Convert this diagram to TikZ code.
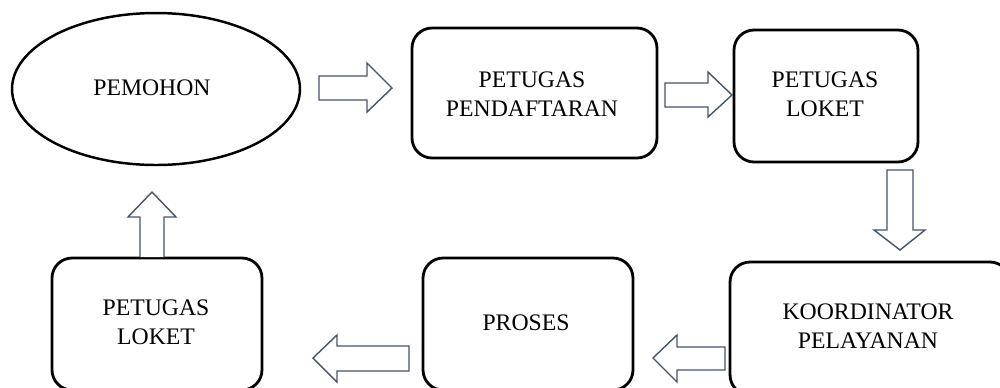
\documentclass[tikz,border=0pt]{standalone}
\usepackage{fontspec}
\setmainfont{Liberation Serif}
\usetikzlibrary{shapes.geometric}
\definecolor{arrowline}{RGB}{68,84,106}
\tikzset{
  procbox/.style={draw=black, line width=1.6pt, rounded corners=0.4cm, inner sep=0pt, align=center, font=\fontsize{13.5}{16.5}\selectfont},
  startnode/.style={draw=black, ellipse, line width=1.4pt, inner sep=0pt, minimum width=5.76cm, minimum height=3.04cm, font=\fontsize{13.5}{16.5}\selectfont},
  blockarrow/.style={draw=arrowline, fill=white, line width=0.8pt, line join=miter},
  lbl/.style={align=center, inner sep=0pt, font=\fontsize{13.5}{16.5}\selectfont}
}
\begin{document}
\begin{tikzpicture}[x=0.02cm,y=-0.02cm]
\useasboundingbox (0,0) rectangle (1000,387);
\clip (0,0) rectangle (1000,387);
% nodes
\node[startnode] (pemohon) at (156,89) {};
\node[lbl] (tpemohon) at (152,88) {PEMOHON};
\node[procbox, minimum width=4.9cm, minimum height=2.6cm] (daftar) at (534.5,93) {};
\node[lbl] (tdaftar) at (532,94) {PETUGAS\\PENDAFTARAN};
\node[procbox, minimum width=3.68cm, minimum height=2.64cm] (loket1) at (826,96) {};
\node[lbl] (tloket1) at (825,94) {PETUGAS\\LOKET};
\node[procbox, minimum width=5.6cm, minimum height=2.66cm] (koord) at (870,328.5) {};
\node[lbl] (tkoord) at (868,326) {KOORDINATOR\\PELAYANAN};
\node[procbox, minimum width=4.2cm, minimum height=2.64cm] (proses) at (528,324) {};
\node[lbl] (tproses) at (526,323) {PROSES};
\node[procbox, minimum width=4.2cm, minimum height=2.64cm] (loket2) at (157,324) {};
\node[lbl] (tloket2) at (156,322.5) {PETUGAS\\LOKET};
% block arrows
\draw[blockarrow] (319,76) -- (367,76) -- (367,63) -- (392,88) -- (367,112) -- (367,100) -- (319,100) -- cycle;
\draw[blockarrow] (665,83) -- (708,83) -- (708,72) -- (732,95) -- (708,117) -- (708,107) -- (665,107) -- cycle;
\draw[blockarrow] (887,170) -- (913,170) -- (913,230) -- (925,230) -- (900,250) -- (874,230) -- (887,230) -- cycle;
\draw[blockarrow] (409,346) -- (337,346) -- (337,335) -- (313,358) -- (337,382) -- (337,371) -- (409,371) -- cycle;
\draw[blockarrow] (725,347) -- (677,347) -- (677,335) -- (653,358) -- (677,382) -- (677,370) -- (725,370) -- cycle;
\draw[blockarrow] (140,257) -- (140,217) -- (128,217) -- (152,192) -- (176,217) -- (164,217) -- (164,257);
\end{tikzpicture}
\end{document}
